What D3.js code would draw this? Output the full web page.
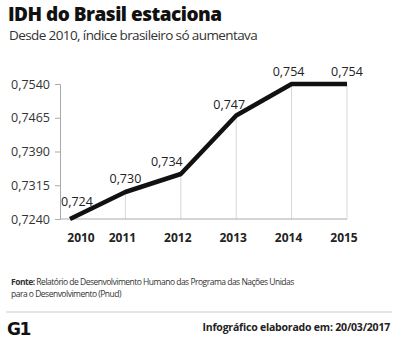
<!DOCTYPE html>
<html>
<head>
<meta charset="utf-8">
<script src="https://cdn.jsdelivr.net/npm/d3@7"></script>
<style>
  body { margin: 0; background: #fff; }
  svg { display: block; font-family: "Open Sans", sans-serif; }
</style>
</head>
<body>
<div id="chart"></div>
<script>
// IDH values by year
const years = ["2010", "2011", "2012", "2013", "2014", "2015"];
const idh = [0.724, 0.730, 0.734, 0.747, 0.754, 0.754];
const valueLabels = ["0,724", "0,730", "0,734", "0,747", "0,754", "0,754"];
const yTicks = [0.7240, 0.7315, 0.7390, 0.7465, 0.7540];

const width = 400, height = 344;

const svg = d3.select("#chart").append("svg")
    .attr("width", width)
    .attr("height", height);

// title + subtitle
svg.append("text")
    .attr("x", 8).attr("y", 21)
    .attr("font-size", 19)
    .attr("font-weight", 800)
    .attr("letter-spacing", -0.5)
    .attr("fill", "#111")
    .text("IDH do Brasil estaciona");

svg.append("text")
    .attr("x", 9).attr("y", 40)
    .attr("font-size", 13.5)
    .attr("fill", "#333")
    .attr("letter-spacing", -0.6)
    .text("Desde 2010, índice brasileiro só aumentava");

// scales
let x = d3.scalePoint()
    .domain(years)
    .range([70, 347]);

let y = d3.scaleLinear()
    .domain([0.7240, 0.7540])
    .range([219, 84]);

// vertical guides from each point down to the baseline
svg.selectAll(".guide")
    .data(years.slice(1))
    .enter()
    .append("line")
    .attr("class", "guide")
    .attr("x1", d => x(d)).attr("x2", d => x(d))
    .attr("y1", (d, i) => y(idh[i + 1]))
    .attr("y2", y(0.7240))
    .style("stroke", "#d8d8d8")
    .style("stroke-width", 1);

// baseline
svg.append("line")
    .attr("x1", 60).attr("x2", x("2015"))
    .attr("y1", y(0.7240)).attr("y2", y(0.7240))
    .style("stroke", "#aaa")
    .style("stroke-width", 1);

// y axis
let yAxis = d3.axisLeft(y)
    .tickValues(yTicks)
    .tickSize(5)
    .tickPadding(5)
    .tickFormat(d => d3.format(".4f")(d).replace(".", ","));

let gy = svg.append("g")
    .attr("transform", "translate(60,0)")
    .call(yAxis);
gy.select(".domain").attr("stroke", "#aaa");
gy.selectAll(".tick line").attr("stroke", "#aaa");
gy.selectAll(".tick text")
    .attr("font-size", 12.5)
    .attr("font-family", "Open Sans, sans-serif")
    .attr("fill", "#333");

// year labels
svg.selectAll(".year")
    .data(years)
    .enter()
    .append("text")
    .attr("class", "year")
    .attr("x", d => x(d) + (d === "2010" ? 11 : -3))
    .attr("y", 242)
    .attr("text-anchor", "middle")
    .attr("font-size", 12)
    .attr("font-weight", 700)
    .attr("fill", "#222")
    .text(d => d);

// the IDH line
let line = d3.line()
    .x((d, i) => x(years[i]))
    .y(d => y(d));

svg.append("path")
    .datum(idh)
    .attr("d", line)
    .attr("fill", "none")
    .attr("stroke", "#111")
    .attr("stroke-width", 4.5)
    .attr("stroke-linejoin", "round");

// value labels above the line
const labelDx = [7, 0, -14, -7, -3, 0];
const labelDy = [-13, -9, -8, -7, -8, -8];

svg.selectAll(".val")
    .data(idh)
    .enter()
    .append("text")
    .attr("class", "val")
    .attr("x", (d, i) => x(years[i]) + labelDx[i])
    .attr("y", (d, i) => y(d) + labelDy[i])
    .attr("text-anchor", "middle")
    .attr("font-size", 12.5)
    .attr("fill", "#222")
    .text((d, i) => valueLabels[i]);

// footer: source
let src = svg.append("text")
    .attr("x", 11).attr("y", 285)
    .attr("font-size", 8.5)
    .attr("letter-spacing", -0.5)
    .attr("fill", "#333");
src.append("tspan").attr("font-weight", 700).text("Fonte: ");
src.append("tspan").text(" Relatório de Desenvolvimento Humano das Programa das Nações Unidas");

svg.append("text")
    .attr("x", 11).attr("y", 297)
    .attr("font-size", 8.5)
    .attr("letter-spacing", -0.5)
    .attr("fill", "#333")
    .text("para o Desenvolvimento (Pnud)");

svg.append("line")
    .attr("x1", 6).attr("x2", 392)
    .attr("y1", 312).attr("y2", 312)
    .style("stroke", "#ccc")
    .style("stroke-width", 1.2);

// G1 mark
svg.append("text")
    .attr("x", 7).attr("y", 335)
    .attr("font-family", "DejaVu Sans, sans-serif")
    .attr("font-size", 17)
    .attr("font-weight", 900)
    .attr("letter-spacing", -1.5)
    .attr("fill", "#111")
    .text("G1");

svg.append("text")
    .attr("x", 390).attr("y", 331)
    .attr("text-anchor", "end")
    .attr("font-size", 10.5)
    .attr("font-weight", 700)
    .attr("letter-spacing", -0.2)
    .attr("fill", "#222")
    .text("Infográfico elaborado em:  20/03/2017");
</script>
</body>
</html>
